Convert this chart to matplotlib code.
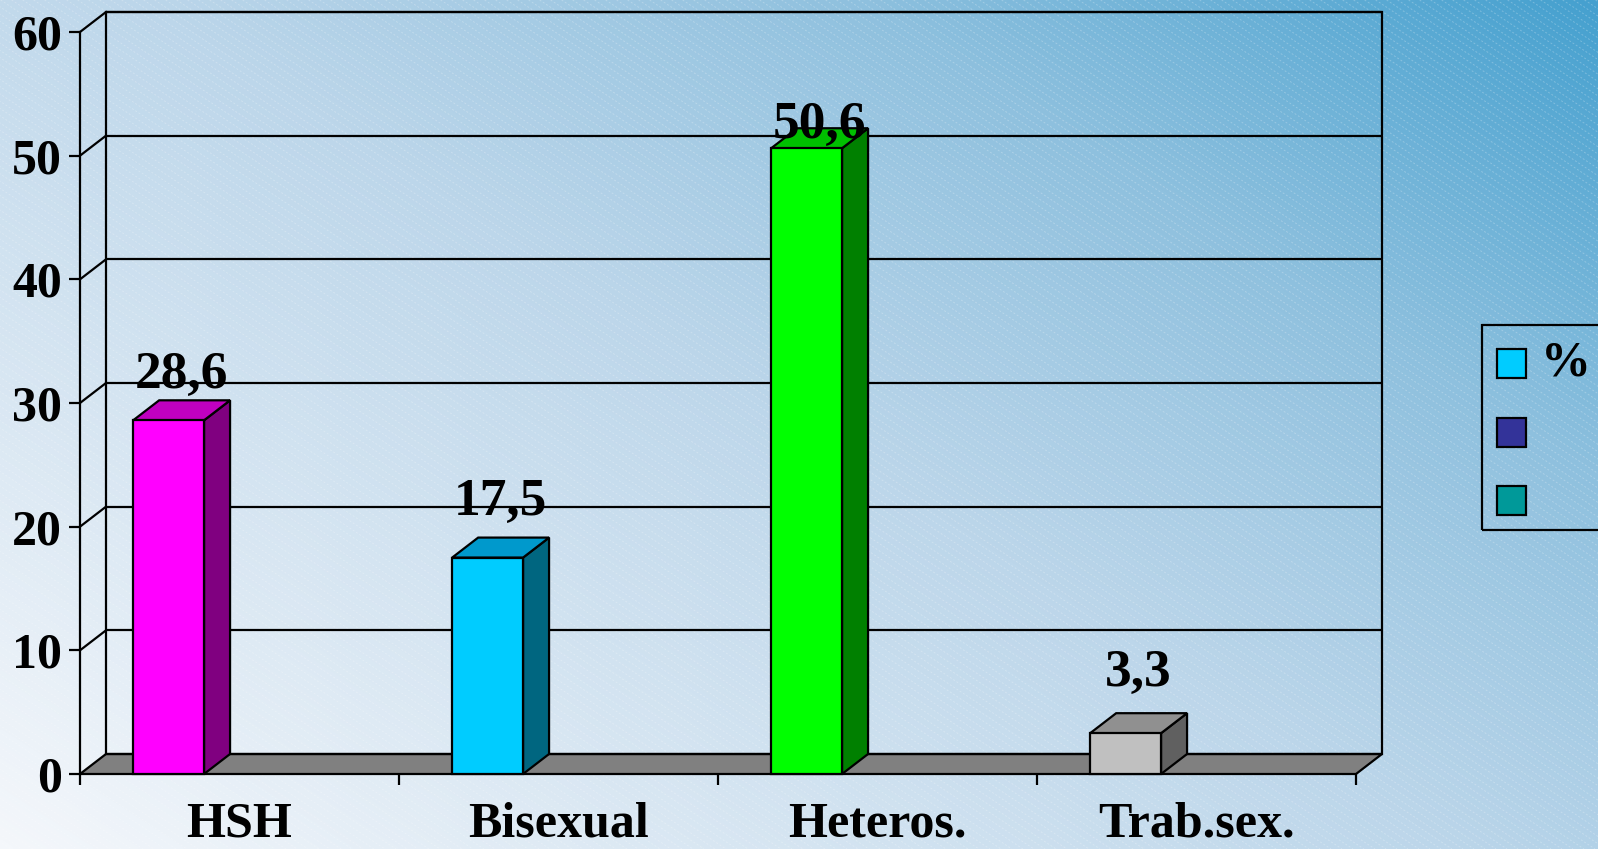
import numpy as np
import matplotlib
matplotlib.use("Agg")
import matplotlib.pyplot as plt
from matplotlib.patches import Polygon, Rectangle
from matplotlib.collections import LineCollection
from matplotlib.colors import LinearSegmentedColormap

# ---------------- data ----------------
categories = ["HSH", "Bisexual", "Heteros.", "Trab.sex."]
values = [28.6, 17.5, 50.6, 3.3]
y_ticks = [0, 10, 20, 30, 40, 50, 60]
legend_labels = ["%", "", ""]

# ---------------- styles ----------------
front_colors = ["#FF00FF", "#00CCFF", "#00FF00", "#C0C0C0"]
top_colors = ["#C000C0", "#0099CC", "#00C000", "#909090"]
side_colors = ["#800080", "#006680", "#008000", "#606060"]
legend_colors = ["#00CCFF", "#333399", "#009999"]
label_offsets_px = [25, 36, 3, 40]   # layout tweak: label centre above bar top

plt.rcParams["font.family"] = ["Liberation Serif", "DejaVu Serif"]
plt.rcParams["font.weight"] = "bold"
FS = 36
FS_LABEL = 38.5

W, H = 1598, 849
fig = plt.figure(figsize=(W / 100, H / 100), dpi=100)

# ---------------- background gradient + hatch ----------------
bg = fig.add_axes([0, 0, 1, 1], zorder=0)
xx, yy = np.meshgrid(np.linspace(0, 1, 400), np.linspace(0, 1, 220))
t = 0.55 * xx + 0.45 * yy
cmap = LinearSegmentedColormap.from_list(
    "bg", [(0, "#F4F7FB"), (0.5, "#BCD6EA"), (0.75, "#8EC0DE"), (1.0, "#45A0CF")])
bg.imshow(t, cmap=cmap, extent=(0, W, 0, H), origin="lower", aspect="auto",
          vmin=0, vmax=1, interpolation="bilinear")
slope = 0.66
segs = []
for c in np.arange(-H / slope, W + 20, 11):
    segs.append([(c, H), (c + H / slope, 0)])
bg.add_collection(LineCollection(segs, colors="white", linewidths=0.7, alpha=0.25,
                                 linestyles=(0, (2, 2))))
bg.set_xlim(0, W)
bg.set_ylim(0, H)
bg.axis("off")

# ---------------- main axes ----------------
x_left, x_right, y_zero, y_top = 80, 1356, 774, 32
ax = fig.add_axes([x_left / W, (H - y_zero) / H, (x_right - x_left) / W,
                   (y_zero - y_top) / H], zorder=1)
ax.patch.set_alpha(0)
n = len(categories)
ymax = 60
ax.set_xlim(0, n)
ax.set_ylim(0, ymax)
for s in ax.spines.values():
    s.set_visible(False)

px_x = (x_right - x_left) / n
px_y = (y_zero - y_top) / ymax
dx = 26 / px_x
dy = 20 / px_y
LW = 1.6

# floor
ax.add_patch(Polygon([(0, 0), (n, 0), (n + dx, dy), (dx, dy)], closed=True,
                     facecolor="#808080", edgecolor="black", lw=LW, zorder=2,
                     clip_on=False))
# back wall
ax.add_patch(Rectangle((dx, dy), n, ymax, fill=False, edgecolor="black", lw=LW,
                       zorder=2, clip_on=False))
# gridlines
for v in y_ticks[1:]:
    ax.plot([dx, n + dx], [v + dy, v + dy], color="black", lw=LW, zorder=2,
            clip_on=False, solid_capstyle="butt")
    ax.plot([0, dx], [v, v + dy], color="black", lw=LW, zorder=2, clip_on=False)
# front value axis
ax.plot([0, 0], [0, ymax], color="black", lw=LW, zorder=2, clip_on=False)

# bars (first of three series slots in each category)
bw = 1 / 4.5
off = 0.75 / 4.5
for i, v in enumerate(values):
    x0 = i + off
    ax.add_patch(Polygon([(x0 + bw, 0), (x0 + bw + dx, dy), (x0 + bw + dx, v + dy),
                          (x0 + bw, v)], closed=True, facecolor=side_colors[i],
                         edgecolor="black", lw=LW, zorder=3, clip_on=False))
    ax.add_patch(Polygon([(x0, v), (x0 + bw, v), (x0 + bw + dx, v + dy), (x0 + dx, v + dy)],
                         closed=True, facecolor=top_colors[i], edgecolor="black",
                         lw=LW, zorder=3, clip_on=False))
    ax.add_patch(Rectangle((x0, 0), bw, v, facecolor=front_colors[i],
                           edgecolor="black", lw=LW, zorder=3, clip_on=False))
    ax.text(x0 + bw / 2 + dx / 2, v + dy + label_offsets_px[i] / px_y,
            f"{v:.1f}".replace(".", ","), ha="center", va="center",
            fontsize=FS_LABEL, fontweight="bold", zorder=5, clip_on=False)

# ticks
ax.set_yticks(y_ticks)
ax.set_yticklabels([str(v) for v in y_ticks], fontsize=FS, fontweight="bold")
ax.tick_params(axis="y", length=8, width=LW, pad=5, direction="out")
ax.set_xticks([i + 0.5 for i in range(n)])
ax.set_xticklabels(categories, fontsize=FS, fontweight="bold")
ax.set_xticks(range(n + 1), minor=True)
ax.tick_params(axis="x", which="major", length=0, pad=20)
ax.tick_params(axis="x", which="minor", length=8, width=LW, direction="out")

# ---------------- legend ----------------
def fx(px):
    return px / W

def fy(py):
    return (H - py) / H

fig.add_artist(Rectangle((fx(1482), fy(530)), fx(200), 205 / H, transform=fig.transFigure,
                         fill=False, edgecolor="black", lw=LW, zorder=4))
for k, (lab, col) in enumerate(zip(legend_labels, legend_colors)):
    cy = [363, 432, 500][k]
    fig.add_artist(Rectangle((fx(1497), fy(cy + 14.5)), fx(29), 29 / H,
                             transform=fig.transFigure, facecolor=col,
                             edgecolor="black", lw=LW, zorder=4))
    if lab:
        fig.text(fx(1541), fy(cy), lab, ha="left", va="center", fontsize=FS,
                 fontweight="bold", zorder=5)

fig.savefig("out.png", dpi=100)
